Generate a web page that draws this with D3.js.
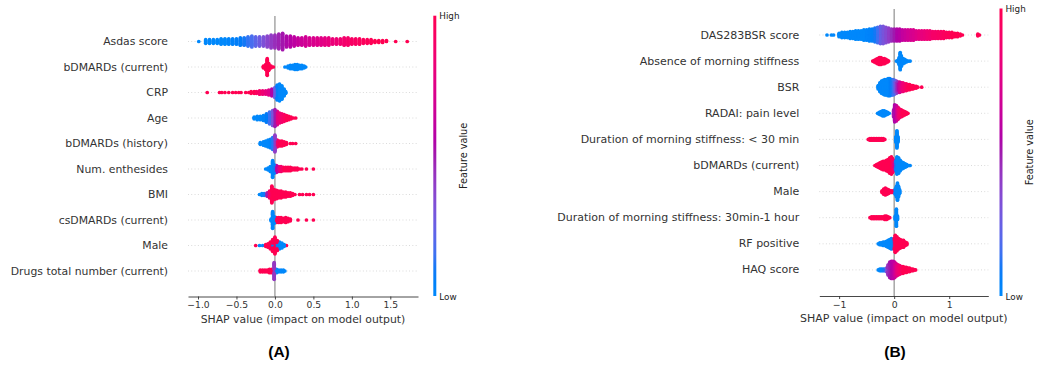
<!DOCTYPE html>
<html>
<head>
<meta charset="utf-8">
<script src="https://cdn.jsdelivr.net/npm/d3@7"></script>
<style>
  body { margin: 0; background: #fff; }
  svg { display: block; }
</style>
</head>
<body>
<svg id="chart" width="1046" height="365"></svg>
<script>
// SHAP beeswarm data. Each entry: [shap value, number of points, feature value 0 (low) .. 1 (high)]

// ---------- Panel A ----------
const featuresA = ["Asdas score", "bDMARDs (current)", "CRP", "Age", "bDMARDs (history)",
  "Num. enthesides", "BMI", "csDMARDs (current)", "Male", "Drugs total number (current)"];

const asdasScore = [
  [-0.99,1,0],[-0.9,5,0],[-0.85,5,0],[-0.8,5,0],[-0.75,5,0],[-0.7,7,0],[-0.65,7,0],[-0.6,7,0.02],
  [-0.55,7,0.04],[-0.5,7,0.06],[-0.45,9,0.08],[-0.4,9,0.1],[-0.35,11,0.13],[-0.3,13,0.17],
  [-0.25,11,0.22],[-0.2,11,0.27],[-0.15,11,0.32],[-0.1,13,0.37],[-0.05,15,0.41],[0,15,0.45],
  [0.05,17,0.48],[0.1,19,0.51],[0.15,13,0.54],[0.2,13,0.57],[0.25,11,0.6],[0.3,9,0.63],
  [0.35,9,0.66],[0.4,11,0.68],[0.45,9,0.7],[0.5,9,0.72],[0.55,9,0.74],[0.6,9,0.76],[0.65,9,0.78],
  [0.7,9,0.8],[0.75,7,0.82],[0.8,7,0.84],[0.85,7,0.86],[0.9,9,0.88],[0.95,9,0.9],[1.0,7,0.92],
  [1.05,7,0.93],[1.1,7,0.95],[1.15,5,0.96],[1.2,5,0.97],[1.25,5,0.98],[1.3,3,1],[1.35,3,1],
  [1.4,3,1],[1.45,2,1],[1.57,1,1],[1.72,1,1]
];
const bDMARDsCurrentA = [
  [-0.15,3,1],[-0.12,7,1],[-0.1,21,1],[-0.08,9,1],[-0.05,3,1],[-0.02,1,1],
  [0.13,1,0],[0.17,3,0],[0.2,5,0],[0.23,5,0],[0.26,7,0],[0.29,7,0],[0.32,5,0],[0.35,5,0],
  [0.38,3,0],[0.4,1,0]
];
const crp = [
  [-0.88,1,1],[-0.72,1,1],[-0.69,1,1],[-0.65,1,1],[-0.6,1,1],[-0.55,1,1],[-0.51,1,1],[-0.47,1,1],
  [-0.44,1,1],[-0.38,1,1],[-0.34,1,1],[-0.31,3,1],[-0.27,3,1],[-0.24,3,0.95],[-0.2,5,0.9],
  [-0.16,5,0.85],[-0.12,5,0.8],[-0.08,7,0.75],[-0.04,9,0.55],[0,13,0.25],[0.03,19,0.05],
  [0.06,21,0],[0.09,17,0],[0.12,9,0],[0.14,3,0]
];
const ageA = [
  [-0.27,3,0],[-0.23,5,0],[-0.19,5,0],[-0.15,7,0.03],[-0.11,11,0.08],[-0.07,15,0.15],
  [-0.03,19,0.3],[0,21,0.5],[0.03,17,0.78],[0.06,13,0.85],[0.09,11,0.9],[0.12,9,0.95],
  [0.15,7,1],[0.18,5,1],[0.21,3,1],[0.24,1,1],[0.27,1,1]
];
const bDMARDsHistory = [
  [-0.19,3,0],[-0.15,5,0],[-0.12,7,0],[-0.09,9,0],[-0.06,11,0.03],[-0.03,15,0.12],[0,21,0.4],
  [0.03,9,0.9],[0.06,7,1],[0.09,7,1],[0.12,5,1],[0.15,3,1],[0.2,1,1],[0.23,1,1],[0.27,1,1]
];
const numEnthesides = [
  [-0.12,1,0],[-0.09,3,0],[-0.06,7,0],[-0.03,21,0],[-0.01,11,0.1],[0.02,9,0.6],[0.05,7,0.8],
  [0.08,7,0.9],[0.11,5,1],[0.14,5,1],[0.17,5,1],[0.2,5,1],[0.23,3,1],[0.26,3,1],[0.29,3,1],
  [0.32,1,1],[0.35,1,1],[0.41,1,1],[0.5,1,1]
];
const bmi = [
  [-0.2,1,0],[-0.17,3,0],[-0.14,3,0.1],[-0.1,5,0.5],[-0.07,9,0.9],[-0.04,21,1],[-0.01,13,1],
  [0.02,11,1],[0.05,9,1],[0.08,9,1],[0.11,7,1],[0.14,7,1],[0.17,5,1],[0.2,5,1],[0.23,3,1],
  [0.26,1,1],[0.32,1,1],[0.36,1,1],[0.41,1,1],[0.45,1,1],[0.5,1,1]
];
const csDMARDsCurrent = [
  [-0.05,3,0],[-0.03,21,0],[-0.01,9,0],[0.02,7,1],[0.05,7,1],[0.08,7,1],[0.11,5,1],[0.14,7,1],
  [0.17,5,1],[0.2,3,1],[0.3,1,1],[0.41,1,1],[0.5,1,1]
];
const maleA = [
  [-0.25,1,1],[-0.2,1,0],[-0.16,1,0],[-0.12,3,1],[-0.09,5,1],[-0.06,9,1],[-0.03,5,0],[-0.03,10,1],
  [0,21,1],[0.03,7,0],[0.03,6,1],[0.06,9,0],[0.09,7,0],[0.12,3,0],[0.15,1,1]
];
const drugsTotalCurrent = [
  [-0.19,3,1],[-0.16,3,1],[-0.13,3,1],[-0.1,3,1],[-0.07,5,1],[-0.04,5,1],[-0.01,21,0.42],
  [0.02,5,0],[0.05,3,0],[0.08,3,0],[0.11,3,0],[0.13,1,0]
];
const valuesA = [asdasScore, bDMARDsCurrentA, crp, ageA, bDMARDsHistory, numEnthesides,
  bmi, csDMARDsCurrent, maleA, drugsTotalCurrent];
const ticksA = [-1.0, -0.5, 0.0, 0.5, 1.0, 1.5];

// ---------- Panel B ----------
const featuresB = ["DAS283BSR score", "Absence of morning stiffness", "BSR", "RADAI: pain level",
  "Duration of morning stiffness: < 30 min", "bDMARDs (current)", "Male",
  "Duration of morning stiffness: 30min-1 hour", "RF positive", "HAQ score"];

const das283bsr = [
  [-1.22,1,0],[-1.14,1,0],[-1.1,1,0],[-1.0,5,0],[-0.95,7,0],[-0.9,7,0],[-0.85,7,0],[-0.8,9,0],
  [-0.75,9,0],[-0.7,11,0],[-0.65,11,0],[-0.6,11,0],[-0.55,13,0],[-0.5,13,0.02],[-0.45,15,0.03],
  [-0.4,15,0.05],[-0.35,17,0.1],[-0.3,19,0.15],[-0.25,21,0.25],[-0.2,21,0.3],[-0.15,19,0.35],
  [-0.1,17,0.4],[-0.05,15,0.45],[0,15,0.5],[0.05,15,0.55],[0.1,15,0.58],[0.15,13,0.62],
  [0.2,13,0.65],[0.25,13,0.68],[0.3,13,0.7],[0.35,13,0.72],[0.4,11,0.75],[0.45,11,0.78],
  [0.5,11,0.8],[0.55,11,0.82],[0.6,11,0.85],[0.65,11,0.87],[0.7,9,0.9],[0.75,9,0.9],
  [0.8,9,0.92],[0.85,9,0.93],[0.9,9,0.95],[0.95,7,0.96],[1.0,7,0.97],[1.05,7,1],[1.1,5,1],
  [1.15,5,1],[1.2,3,1],[1.24,1,1],[1.52,3,1],[1.55,1,1]
];
const absenceMorningStiffness = [
  [-0.39,1,1],[-0.36,3,1],[-0.33,5,1],[-0.3,7,1],[-0.27,9,1],[-0.24,9,1],[-0.21,7,1],[-0.18,7,1],
  [-0.15,5,1],[-0.12,3,1],[-0.1,1,1],
  [0.04,1,0],[0.07,3,0],[0.09,9,0],[0.11,21,0],[0.13,13,0],[0.16,7,0],[0.19,5,0],[0.22,3,0],
  [0.26,1,0],[0.29,1,0]
];
const bsr = [
  [-0.29,5,0],[-0.26,11,0],[-0.23,15,0],[-0.2,17,0],[-0.17,19,0],[-0.14,19,0],[-0.11,21,0],
  [-0.08,21,0.05],[-0.05,19,0.1],[-0.02,19,0.15],[0.01,17,0.3],[0.04,15,0.45],[0.07,13,0.6],
  [0.1,13,0.7],[0.13,11,0.8],[0.16,11,0.85],[0.19,9,0.9],[0.22,9,0.95],[0.25,7,1],[0.28,7,1],
  [0.31,5,1],[0.34,5,1],[0.37,3,1],[0.4,3,1],[0.43,1,1],[0.5,1,1]
];
const radaiPain = [
  [-0.3,1,0],[-0.27,3,0],[-0.24,5,0],[-0.21,7,0],[-0.18,7,0],[-0.15,5,0],[-0.12,3,0],[-0.09,1,0],
  [-0.01,9,0.5],[0.01,21,0.55],[0.04,19,0.7],[0.07,15,0.85],[0.1,11,0.9],[0.13,9,1],[0.16,7,1],
  [0.19,5,1],[0.22,3,1],[0.25,1,1]
];
const stiffnessUnder30 = [
  [-0.47,1,1],[-0.44,3,1],[-0.41,3,1],[-0.38,3,1],[-0.35,3,1],[-0.32,3,1],[-0.29,3,1],
  [-0.26,3,1],[-0.23,3,1],[-0.2,3,1],[-0.17,1,1],
  [0.03,7,0],[0.05,21,0],[0.07,7,0]
];
const bDMARDsCurrentB = [
  [-0.35,1,1],[-0.32,3,1],[-0.29,5,1],[-0.26,7,1],[-0.23,9,1],[-0.2,11,1],[-0.17,11,1],
  [-0.14,13,1],[-0.11,15,1],[-0.08,19,1],[-0.05,21,1],[-0.03,17,0.9],[-0.01,9,0.7],
  [0.02,13,0.1],[0.05,21,0],[0.08,19,0],[0.11,13,0],[0.14,9,0],[0.17,7,0],[0.2,5,0],
  [0.23,3,0],[0.27,1,0],[0.29,1,0]
];
const maleB = [
  [-0.22,3,1],[-0.19,7,1],[-0.16,9,1],[-0.13,7,1],[-0.1,5,1],[-0.07,3,1],[-0.04,3,1],[-0.01,3,1],
  [0.02,7,0],[0.04,13,0],[0.06,21,0],[0.08,13,0],[0.1,5,0]
];
const stiffness30to60 = [
  [-0.44,1,1],[-0.41,3,1],[-0.38,3,1],[-0.35,3,1],[-0.32,3,1],[-0.29,3,1],[-0.26,3,1],
  [-0.23,3,1],[-0.2,3,1],[-0.17,5,1],[-0.14,5,1],[-0.11,3,1],[-0.08,1,1],
  [0.02,5,0],[0.04,21,0],[0.06,5,0]
];
const rfPositive = [
  [-0.29,1,0],[-0.26,3,0],[-0.23,3,0],[-0.2,5,0],[-0.17,5,0],[-0.14,7,0],[-0.11,9,0],[-0.08,11,0],
  [-0.05,13,0],[-0.03,11,0],[0,13,1],[0.02,21,1],[0.05,17,1],[0.08,13,1],[0.11,11,1],
  [0.14,9,1],[0.17,9,1],[0.2,5,1],[0.23,3,1]
];
const haqScore = [
  [-0.29,1,0],[-0.26,3,0],[-0.23,3,0],[-0.2,3,0.1],[-0.17,3,0.1],[-0.14,5,0.3],[-0.11,13,0.45],
  [-0.08,19,0.5],[-0.05,21,0.55],[-0.02,21,0.6],[0.01,19,0.7],[0.04,15,0.8],[0.07,13,0.85],
  [0.1,11,0.9],[0.13,9,0.95],[0.16,9,1],[0.19,7,1],[0.22,7,1],[0.25,5,1],[0.28,5,1],
  [0.31,3,1],[0.34,3,1],[0.37,1,1],[0.39,1,1]
];
const valuesB = [das283bsr, absenceMorningStiffness, bsr, radaiPain, stiffnessUnder30,
  bDMARDsCurrentB, maleB, stiffness30to60, rfPositive, haqScore];
const ticksB = [-1, 0, 1];

// ---------- colour map (perceptual blue -> purple -> red in LCh) ----------
function redBlue(t) {
  const h = 266.93 + t * (380.32 - 266.93);
  const c = 70 + 20 * t;
  const l = t < 0.5 ? 54 - 28 * t : 40 + 28 * (t - 0.5);
  return d3.hcl(h % 360, c, l).formatHex();
}

const svg = d3.select("#chart");

function drawPanel(cfg) {
  const g = svg.append("g");
  const x = d3.scaleLinear().domain(cfg.domain).range(cfg.xRange);
  const y = d3.scalePoint().domain(cfg.features).range(cfg.rowRange);
  const rowStep = y.step();
  const axisTop = cfg.rowRange[0] - rowStep;
  const axisBottom = cfg.rowRange[1] + rowStep;

  // dotted guide line for every feature row
  g.append("g").selectAll("line").data(cfg.features).join("line")
    .attr("x1", cfg.xRange[0]).attr("x2", cfg.xRange[1])
    .attr("y1", d => y(d)).attr("y2", d => y(d))
    .attr("stroke", "#cccccc").attr("stroke-width", 0.8)
    .attr("stroke-dasharray", "0.9 2.4");

  // zero reference line
  g.append("line")
    .attr("x1", x(0)).attr("x2", x(0))
    .attr("y1", axisTop).attr("y2", axisBottom)
    .attr("stroke", "#999999").attr("stroke-width", 1.3);

  // beeswarm layout: points sharing a shap value are stacked in alternating layers
  const points = [];
  cfg.features.forEach((f, fi) => {
    const rows = cfg.values[fi];
    const layerCount = new Map();
    const pts = [];
    rows.forEach(([s, n, c]) => {
      for (let i = 0; i < n; i++) {
        const k = layerCount.get(s) || 0;
        layerCount.set(s, k + 1);
        const off = Math.ceil(k / 2) * ((k % 2) * 2 - 1);
        pts.push({ s, c, off, k, f });
      }
    });
    const maxOff = d3.max(pts, p => Math.abs(p.off));
    const scale = 0.9 * 0.4 * rowStep / (maxOff + 1);
    pts.sort((a, b) => a.k - b.k);
    pts.forEach(p => { p.cy = y(f) - p.off * scale; points.push(p); });
  });

  g.append("g").selectAll("circle").data(points).join("circle")
    .attr("cx", d => x(d.s))
    .attr("cy", d => d.cy)
    .attr("r", cfg.r)
    .attr("fill", d => redBlue(d.c));

  // x axis
  const axis = d3.axisBottom(x).tickValues(cfg.ticks).tickFormat(d3.format(cfg.tickFmt))
    .tickSize(3).tickSizeOuter(0);
  const ax = g.append("g").attr("transform", `translate(0,${axisBottom})`).call(axis);
  ax.select(".domain").attr("stroke", "#333333").attr("stroke-width", 0.9);
  ax.selectAll(".tick line").attr("stroke", "#333333").attr("stroke-width", 0.9);
  ax.selectAll(".tick text")
    .attr("fill", "#333333")
    .attr("y", 5)
    .style("font-family", "DejaVu Sans")
    .style("font-size", cfg.tickFont + "px");

  g.append("text")
    .attr("x", (cfg.xRange[0] + cfg.xRange[1]) / 2)
    .attr("y", axisBottom + 22.5)
    .attr("text-anchor", "middle")
    .attr("dominant-baseline", "central")
    .attr("fill", "#333333")
    .style("font-family", "DejaVu Sans")
    .style("font-size", cfg.labelFont + "px")
    .text("SHAP value (impact on model output)");

  // feature names
  g.append("g").selectAll("text").data(cfg.features).join("text")
    .attr("x", cfg.xRange[0] - 20)
    .attr("y", d => y(d))
    .attr("text-anchor", "end")
    .attr("dominant-baseline", "central")
    .attr("fill", "#333333")
    .style("font-family", "DejaVu Sans")
    .style("font-size", cfg.labelFont + "px")
    .text(d => d);

  // colour bar
  const gradId = "grad" + cfg.tag;
  const grad = svg.append("defs").append("linearGradient")
    .attr("id", gradId).attr("x1", 0).attr("y1", 1).attr("x2", 0).attr("y2", 0);
  d3.range(0, 1.0001, 0.05).forEach(t => {
    grad.append("stop").attr("offset", t).attr("stop-color", redBlue(t));
  });
  const cb = cfg.colorbar;
  g.append("rect")
    .attr("x", cb.x).attr("y", cb.top)
    .attr("width", 3).attr("height", cb.bottom - cb.top)
    .attr("fill", `url(#${gradId})`);
  const cbText = (txt, yy) => g.append("text")
    .attr("x", cb.x + 6).attr("y", yy)
    .attr("dominant-baseline", "central")
    .attr("fill", "#222")
    .style("font-family", "DejaVu Sans")
    .style("font-size", "8.8px")
    .text(txt);
  cbText("High", cb.top + 0.5);
  cbText("Low", cb.bottom + 0.5);
  g.append("text")
    .attr("transform", `translate(${cb.x + 30},${(cb.top + cb.bottom) / 2}) rotate(-90)`)
    .attr("text-anchor", "middle")
    .attr("dominant-baseline", "central")
    .attr("fill", "#222")
    .style("font-family", "DejaVu Sans")
    .style("font-size", "9.7px")
    .text("Feature value");

  // panel tag
  g.append("text")
    .attr("x", cfg.tagX).attr("y", 351)
    .attr("text-anchor", "middle")
    .attr("dominant-baseline", "central")
    .attr("fill", "#000")
    .style("font-family", "Liberation Sans")
    .style("font-weight", "bold")
    .style("font-size", "15.5px")
    .text(`(${cfg.tag})`);
}

drawPanel({
  tag: "A", features: featuresA, values: valuesA, ticks: ticksA, tickFmt: ".1f",
  domain: [-1.13, 1.86], xRange: [188, 418], rowRange: [41.5, 271],
  r: 1.85, tickFont: 9.2, labelFont: 10.85,
  colorbar: { x: 433.3, top: 15.7, bottom: 296 }, tagX: 279
});

drawPanel({
  tag: "B", features: featuresB, values: valuesB, ticks: ticksB, tickFmt: "d",
  domain: [-1.36, 1.71], xRange: [819.3, 988.3], rowRange: [35, 269.9],
  r: 1.85, tickFont: 9.3, labelFont: 11,
  colorbar: { x: 999.5, top: 8.5, bottom: 296 }, tagX: 895
});
</script>
</body>
</html>
